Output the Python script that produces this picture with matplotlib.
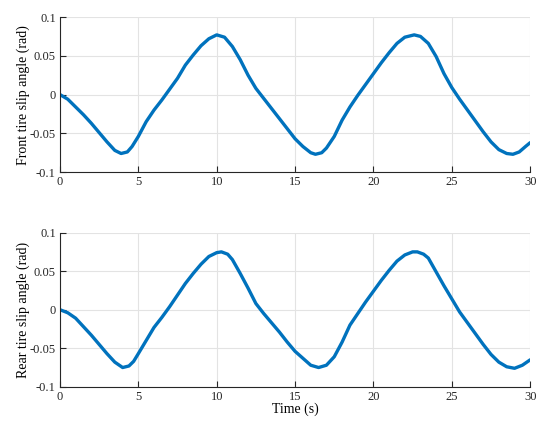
import matplotlib
matplotlib.use("Agg")
import matplotlib.pyplot as plt

plt.rcParams['font.family'] = ['Liberation Serif', 'DejaVu Serif']
plt.rcParams['axes.unicode_minus'] = False

# values
t_front = [0, 0.5, 1, 1.5, 2, 2.5, 3, 3.5, 3.9, 4.3, 4.6, 5, 5.5, 6, 6.5, 7,
           7.5, 8, 8.5, 9, 9.5, 10, 10.5, 11, 11.5, 12, 12.5, 13, 13.5, 14,
           14.5, 15, 15.5, 16, 16.3, 16.7, 17, 17.5, 18, 18.5, 19, 19.5, 20,
           20.5, 21, 21.5, 22, 22.6, 23, 23.5, 24, 24.5, 25, 25.5, 26, 26.5,
           27, 27.5, 28, 28.5, 28.9, 29.3, 29.7, 30]
front = [0, -0.006, -0.016, -0.026, -0.037, -0.049, -0.061, -0.072, -0.076,
         -0.074, -0.067, -0.054, -0.035, -0.020, -0.007, 0.007,
         0.021, 0.038, 0.051, 0.063, 0.072, 0.077, 0.074, 0.062, 0.045,
         0.025, 0.008, -0.005, -0.018, -0.031,
         -0.044, -0.057, -0.067, -0.075, -0.077, -0.075, -0.069, -0.054,
         -0.033, -0.016, -0.001, 0.013, 0.027,
         0.041, 0.054, 0.066, 0.074, 0.077, 0.075, 0.066, 0.049, 0.027,
         0.009, -0.006, -0.020, -0.034,
         -0.048, -0.061, -0.071, -0.076, -0.077, -0.074, -0.067, -0.062]

t_rear = [0, 0.5, 1, 1.5, 2, 2.5, 3, 3.5, 4, 4.4, 4.7, 5, 5.5, 6, 6.5, 7,
          7.5, 8, 8.5, 9, 9.5, 10, 10.3, 10.7, 11, 11.5, 12, 12.5, 13, 13.5,
          14, 14.5, 15, 15.5, 16, 16.5, 17, 17.5, 18, 18.5, 19, 19.5, 20,
          20.5, 21, 21.5, 22, 22.5, 22.8, 23.2, 23.5, 24, 24.5, 25, 25.5, 26,
          26.5, 27, 27.5, 28, 28.5, 29, 29.5, 30]
rear = [0, -0.004, -0.011, -0.022, -0.033, -0.045, -0.057, -0.068, -0.075,
        -0.073, -0.067, -0.057, -0.040, -0.023, -0.010, 0.004,
        0.019, 0.034, 0.047, 0.059, 0.069, 0.074, 0.075, 0.072, 0.065,
        0.047, 0.028, 0.008, -0.005, -0.017,
        -0.029, -0.042, -0.054, -0.063, -0.072, -0.075, -0.072, -0.061,
        -0.042, -0.020, -0.005, 0.010, 0.024,
        0.038, 0.051, 0.063, 0.071, 0.075, 0.075, 0.072, 0.067, 0.049,
        0.031, 0.014, -0.003, -0.017,
        -0.031, -0.045, -0.058, -0.068, -0.074, -0.076, -0.072, -0.065]

x_ticks = [0, 5, 10, 15, 20, 25, 30]
y_ticks = [-0.1, -0.05, 0, 0.05, 0.1]
y_labels = ['-0.1', '-0.05', '0', '0.05', '0.1']

fig = plt.figure(figsize=(5.5, 4.26), dpi=100)
ax1 = fig.add_axes([0.109, 0.596, 0.855, 0.364])
ax2 = fig.add_axes([0.109, 0.092, 0.855, 0.362])

for ax, t, v, lab in [(ax1, t_front, front, 'Front tire slip angle (rad)'),
                      (ax2, t_rear, rear, 'Rear tire slip angle (rad)')]:
    ax.plot(t, v, color='#0072BD', linewidth=2.4, solid_joinstyle='round',
            solid_capstyle='round')
    ax.set_xlim(0, 30)
    ax.set_ylim(-0.1, 0.1)
    ax.set_xticks(x_ticks)
    ax.set_yticks(y_ticks)
    ax.set_yticklabels(y_labels)
    ax.grid(True, color='#e3e3e3', linewidth=0.8)
    ax.set_axisbelow(True)
    for s in ['top', 'right']:
        ax.spines[s].set_visible(False)
    for s in ['left', 'bottom']:
        ax.spines[s].set_color('#262626')
        ax.spines[s].set_linewidth(0.8)
    ax.tick_params(direction='in', length=4, width=0.8, colors='#262626',
                   labelsize=9, pad=3)
    ax.set_ylabel(lab, fontsize=10)
    ax.yaxis.set_label_coords(-0.064, 0.5)

ax2.set_xlabel('Time (s)', fontsize=10, labelpad=0)

fig.savefig('out.png', dpi=100)
